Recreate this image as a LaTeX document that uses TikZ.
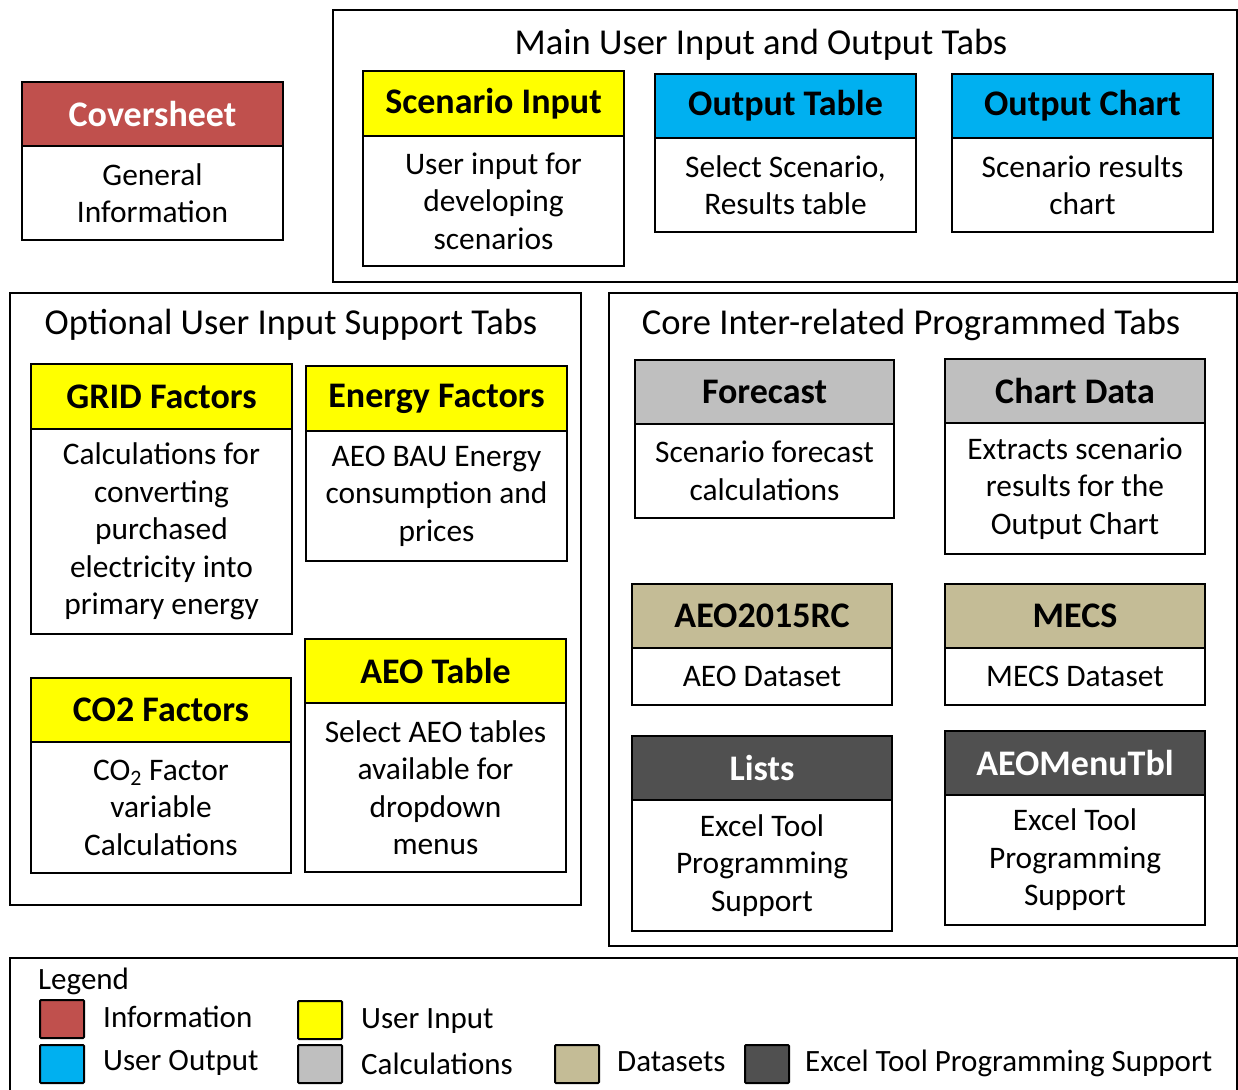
\documentclass[tikz,border=0pt]{standalone}
\usepackage{fontspec}
\setmainfont{Carlito}
\definecolor{cred}{HTML}{C0504D}
\definecolor{cblue}{HTML}{00B0F0}
\definecolor{cyel}{HTML}{FFFF00}
\definecolor{cgray}{HTML}{BFBFBF}
\definecolor{ctan}{HTML}{C4BC96}
\definecolor{cdark}{HTML}{505050}
\newcommand\tabbox[9]{%
  \node[hdr,#7,minimum width=#4,minimum height=#5] (#1h) at (#2,#3) {#8};
  \node[bdy,minimum width=#4,minimum height=#6] (#1b) at (#1h.south) {#9};}
\begin{document}
\begin{tikzpicture}[x=1pt,y=-1pt,
  hdr/.style={draw,line width=2.5pt,anchor=north west,inner sep=0pt,outer sep=0pt,
    font=\fontsize{36}{40}\selectfont\bfseries},
  bdy/.style={draw,line width=2.5pt,anchor=north,fill=white,inner sep=0pt,outer sep=0pt,align=center,
    font=\fontsize{31.4}{37.5}\selectfont},
  info/.style={fill=cred,text=white},
  uout/.style={fill=cblue},
  uin/.style={fill=cyel},
  calc/.style={fill=cgray},
  dset/.style={fill=ctan},
  prog/.style={fill=cdark,text=white},
  frame/.style={draw,line width=2pt},
  gtitle/.style={font=\fontsize{36.5}{40}\selectfont,inner sep=0pt},
  swatch/.style={draw,line width=2pt,minimum width=44,minimum height=38,inner sep=0pt,rounded corners=1pt},
  ltext/.style={font=\fontsize{31}{36}\selectfont,anchor=west,inner sep=0pt}]
\useasboundingbox (0,0) rectangle (1238,1089);
% frames
\draw[frame] (333,10) rectangle (1237,282);
\draw[frame] (10,293) rectangle (581,905);
\draw[frame] (609,293) rectangle (1237,946);
\draw[frame] (10,958) rectangle (1237,1100);
\node[gtitle] (t1) at (761,45) {Main User Input and Output Tabs};
\node[gtitle] (t2) at (291,325) {Optional User Input Support Tabs};
\node[gtitle] (t3) at (911,325) {Core Inter-related Programmed Tabs};
% boxes
\tabbox{cover}{22}{82}{261}{64}{94}{info}{Coversheet}{General\\Information}
\tabbox{scin}{363}{71}{261}{65}{130}{uin}{Scenario Input}{User input for\\developing\\scenarios}
\tabbox{otab}{655}{74}{261}{64}{94}{uout}{Output Table}{Select Scenario,\\Results table}
\tabbox{ochart}{952}{74}{261}{64}{94}{uout}{Output Chart}{Scenario results\\chart}
\tabbox{grid}{31}{364}{261}{65}{205}{uin}{GRID Factors}{Calculations for\\converting\\purchased\\electricity into\\primary energy}
\tabbox{energy}{306}{366}{261}{65}{130}{uin}{Energy Factors}{AEO BAU Energy\\consumption and\\prices}
\tabbox{co2}{31}{678}{260}{64}{131}{uin}{CO2 Factors}{CO\textsubscript{2} Factor\\variable\\Calculations}
\tabbox{aeot}{305}{639}{261}{64}{169}{uin}{AEO Table}{Select AEO tables\\available for\\dropdown\\menus}
\tabbox{fcst}{635}{360}{259}{64}{94}{calc}{Forecast}{Scenario forecast\\calculations}
\tabbox{chd}{945}{359}{260}{64}{131}{calc}{Chart Data}{Extracts scenario\\results for the\\Output Chart}
\tabbox{aeof}{632}{584}{260}{64}{57}{dset}{AEO2015RC}{AEO Dataset}
\tabbox{mecs}{945}{584}{260}{64}{57}{dset}{MECS}{MECS Dataset}
\tabbox{lists}{632}{736}{260}{64}{131}{prog}{Lists}{Excel Tool\\Programming\\Support}
\tabbox{menu}{945}{731}{260}{64}{130}{prog}{AEOMenuTbl}{Excel Tool\\Programming\\Support}
% legend
\node[ltext] (lg) at (38,981) {Legend};
\node[swatch,info] (s1) at (62,1019) {};
\node[swatch,uout] (s2) at (62,1064) {};
\node[swatch,uin] (s3) at (320,1020) {};
\node[swatch,calc] (s4) at (320,1064) {};
\node[swatch,dset] (s5) at (577,1064) {};
\node[swatch,prog] (s6) at (767,1064) {};
\node[ltext] (l1) at (103,1017) {Information};
\node[ltext] (l2) at (103,1063) {User Output};
\node[ltext] (l3) at (361,1021) {User Input};
\node[ltext] (l4) at (361,1064) {Calculations};
\node[ltext] (l5) at (617,1062) {Datasets};
\node[ltext] (l6) at (805,1063) {Excel Tool Programming Support};
\end{tikzpicture}
\end{document}
